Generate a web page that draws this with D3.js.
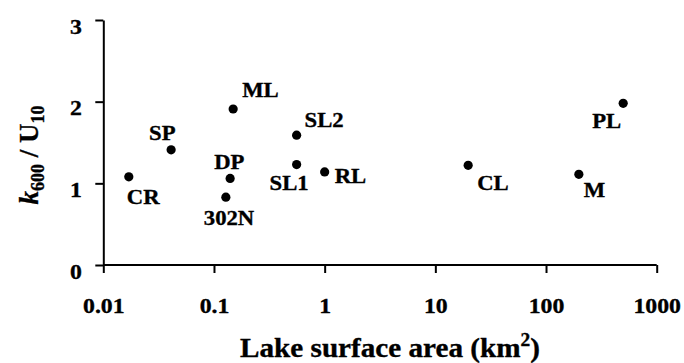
<!DOCTYPE html>
<html>
<head>
<meta charset="utf-8">
<script src="https://cdn.jsdelivr.net/npm/d3@7"></script>
<style>
  body { margin: 0; background: #fff; }
  text { font-family: "Liberation Serif", "Times New Roman", serif; font-weight: bold; fill: #000; stroke: #000; stroke-width: 0.35px; }
</style>
</head>
<body>
<div id="chart"></div>
<script>
const width = 684;
const height = 363;

// data
const lakes = ['CR', 'SP', 'ML', 'DP', '302N', 'SL2', 'SL1', 'RL', 'CL', 'M', 'PL'];
const area = [0.017, 0.041, 0.149, 0.140, 0.128, 0.558, 0.558, 1.0, 19.8, 198, 498];
const ratio = [1.08, 1.41, 1.91, 1.06, 0.83, 1.59, 1.23, 1.14, 1.22, 1.11, 1.98];
const xTicks = [0.01, 0.1, 1, 10, 100, 1000];
const xTickLabels = ['0.01', '0.1', '1', '10', '100', '1000'];
const yTicks = [0, 1, 2, 3];

// label placement relative to the dot (start x, baseline y)
const labelPos = {
  'CR': [-2, 27], 'SP': [-22, -10], 'ML': [9, -12], 'DP': [-16, -9],
  '302N': [-22, 28], 'SL2': [8, -8], 'SL1': [-27, 25], 'RL': [10, 11],
  'CL': [9, 25], 'M': [5, 23], 'PL': [-31, 25]
};

const sx = 1.08; // the original lettering is a bit wide

const svg = d3.select('#chart')
  .append('svg')
  .attr('width', width)
  .attr('height', height);

const x = d3.scaleLog()
  .domain([0.01, 1000])
  .range([103.3, 656.7]);

const y = d3.scaleLinear()
  .domain([0, 3])
  .range([265, 20]);

// x axis
const xAxis = svg.append('g')
  .attr('transform', `translate(0, ${y(0)})`)
  .call(d3.axisBottom(x).tickValues(xTicks)
    .tickFormat((d, i) => xTickLabels[i])
    .tickSize(8).tickSizeOuter(0));
xAxis.select('.domain').attr('stroke-width', 2).attr('d', `M${x(0.01)},0H${x(1000)}`);
xAxis.selectAll('.tick line').attr('stroke-width', 2);
xAxis.selectAll('.tick text')
  .attr('y', 0).attr('dy', 0)
  .attr('transform', `translate(0, 47.5) scale(${sx}, 1)`)
  .style('font-size', '22px')
  .style('font-family', '"Liberation Serif", serif')
  .style('font-weight', 'bold');

// y axis
const yAxis = svg.append('g')
  .attr('transform', `translate(${x(0.01)}, 0)`)
  .call(d3.axisLeft(y).tickValues(yTicks).tickFormat(d3.format('d'))
    .tickSize(8).tickSizeOuter(0));
yAxis.select('.domain').attr('stroke-width', 2);
yAxis.selectAll('.tick line').attr('stroke-width', 2);
yAxis.selectAll('.tick text')
  .attr('x', 0).attr('dy', 0)
  .attr('transform', `translate(-21.5, 13) scale(${sx}, 1)`)
  .style('font-size', '22px')
  .style('font-family', '"Liberation Serif", serif')
  .style('font-weight', 'bold');

// points
const pts = lakes.map((name, i) => ({name: name, a: area[i], r: ratio[i]}));

svg.append('g').selectAll('circle')
  .data(pts)
  .enter().append('circle')
  .attr('cx', d => x(d.a))
  .attr('cy', d => y(d.r))
  .attr('r', 4.6)
  .style('fill', '#000');

svg.append('g').selectAll('text')
  .data(pts)
  .enter().append('text')
  .attr('transform', d => `translate(${x(d.a) + labelPos[d.name][0]}, ${y(d.r) + labelPos[d.name][1]}) scale(${sx}, 1)`)
  .style('font-size', '21px')
  .text(d => d.name);

// x title
const xTitle = svg.append('text')
  .attr('transform', `translate(390, 357) scale(${sx}, 1)`)
  .style('text-anchor', 'middle')
  .style('font-size', '27px');
xTitle.append('tspan').text('Lake surface area (km');
xTitle.append('tspan').text('2').attr('dy', -11).style('font-size', '18px');
xTitle.append('tspan').text(')').attr('dy', 11);

// y title
const yTitle = svg.append('text')
  .attr('transform', `translate(38, 155) rotate(-90)`)
  .style('text-anchor', 'middle')
  .style('font-size', '27px');
yTitle.append('tspan').text('k').style('font-style', 'italic');
yTitle.append('tspan').text('600').attr('dy', 6).style('font-size', '18px');
yTitle.append('tspan').text(' / U').attr('dy', -6);
yTitle.append('tspan').text('10').attr('dy', 6).style('font-size', '18px');
</script>
</body>
</html>
